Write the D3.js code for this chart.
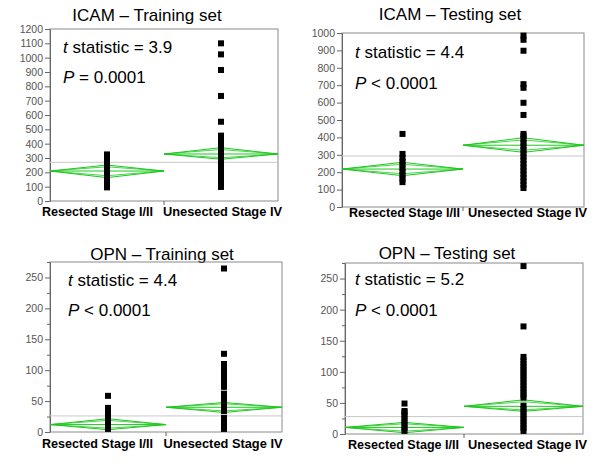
<!DOCTYPE html>
<html>
<head>
<meta charset="utf-8">
<script src="https://cdn.jsdelivr.net/npm/d3@7"></script>
<style>
  body { margin: 0; background: #fff; }
  text { font-family: Arial, "Liberation Sans", sans-serif; }
</style>
</head>
<body>
<svg id="chart" width="600" height="465"></svg>
<script>
// ---------------------------------------------------------------- data
const titles = ["ICAM – Training set", "ICAM – Testing set", "OPN – Training set", "OPN – Testing set"];
const groups = ["Resected Stage I/II", "Unesected Stage IV"];
const tStats = ["3.9", "4.4", "4.4", "5.2"];
const pTexts = ["= 0.0001", "< 0.0001", "< 0.0001", "< 0.0001"];
const yMax = [1200, 1000, 275, 275];
const yStep = [100, 100, 50, 50];
const yMinor = [0, 0, 25, 25];

const grandMeans = [270, 293, 26, 28];
const means = [[209, 328], [218, 355], [12, 40], [10.6, 44.5]];
const ciLow = [[163, 291], [180, 314], [3.7, 31.6], [2, 36.4]];
const ciHigh = [[251, 372], [257, 398], [21.5, 47.8], [18.7, 55]];

const icamTrainRes = [95, 115, 135, 155, 175, 195, 215, 235, 255, 275, 295, 315, 325];
const icamTrainUnres = [98, 118, 138, 158, 178, 198, 218, 238, 258, 278, 298, 318, 338, 358, 378, 398,
  418, 438, 456, 553, 733, 914, 1023, 1100];
const icamTestRes = [143, 163, 183, 203, 223, 243, 263, 283, 305, 420];
const icamTestUnres = [109, 129, 149, 169, 189, 209, 229, 249, 269, 289, 309, 329, 349, 369, 389, 409,
  420, 529, 599, 685, 706, 898, 961, 985];
const opnTrainRes = [5, 9, 13, 17, 21, 25, 29, 33, 37, 39, 58.5];
const opnTrainUnres = [5, 10, 15, 20, 23, 34, 39, 44, 49, 54, 59, 62, 73, 78, 83, 88, 93, 98, 103, 108,
  110, 126.5, 264.5];
const opnTestRes = [5, 10, 15, 20, 25, 30, 35, 37, 49];
const opnTestUnres = [5, 10, 15, 20, 25, 30, 35, 40, 45.5, 58.5, 63, 68, 73, 78, 83, 88, 93, 98, 103, 108,
  113, 118, 124, 173, 270];

const points = [
  [icamTrainRes, icamTrainUnres],
  [icamTestRes, icamTestUnres],
  [opnTrainRes, opnTrainUnres],
  [opnTestRes, opnTestUnres]
];

// ---------------------------------------------------------------- layout
const layout = [
  { l: 50, r: 278, t: 29, b: 201, tx: 147, ty: 21, sx: 63, sy: [53, 83], lb: 216, lx: [97.5, 222.5] },
  { l: 342, r: 584, t: 33, b: 207, tx: 450, ty: 20, sx: 355, sy: [58, 89], lb: 217, lx: [404.5, 527.5] },
  { l: 50, r: 282, t: 262, b: 432, tx: 162, ty: 260, sx: 68, sy: [286, 316], lb: 448, lx: [97.5, 223] },
  { l: 345, r: 583, t: 263, b: 434, tx: 447, ty: 259, sx: 355, sy: [285, 316], lb: 449, lx: [403.5, 527.5] }
];
const labelWidths = [111, 119];

const green = "#1ec81e";
const sq = 6;
const svg = d3.select("#chart");

layout.forEach(function (L, i) {
  var g = svg.append("g");
  var y = d3.scaleLinear().domain([0, yMax[i]]).range([L.b, L.t]);
  var x = d3.scaleBand().domain(groups).range([L.l, L.r]).padding(0);

  // title
  g.append("text").attr("x", L.tx).attr("y", L.ty)
    .attr("text-anchor", "middle").attr("font-size", 17).attr("fill", "#000")
    .text(titles[i]);

  // frame
  g.append("rect").attr("x", L.l).attr("y", L.t)
    .attr("width", L.r - L.l).attr("height", L.b - L.t)
    .attr("fill", "none").attr("stroke", "#8a8a8a");

  // y axis
  var major = d3.range(0, yMax[i] + 1, yStep[i]);
  var ax = g.append("g").attr("transform", "translate(" + L.l + ",0)")
    .call(d3.axisLeft(y).tickValues(major).tickFormat(d3.format("d"))
      .tickSize(5).tickPadding(2).tickSizeOuter(0));
  if (yMinor[i]) {
    var minor = d3.range(0, yMax[i] + 1, yMinor[i]).filter(v => v % yStep[i] != 0);
    g.append("g").attr("transform", "translate(" + L.l + ",0)")
      .call(d3.axisLeft(y).tickValues(minor).tickSize(3).tickFormat("").tickSizeOuter(0))
      .call(s => s.select(".domain").remove())
      .selectAll("line").attr("stroke", "#666");
  }
  ax.select(".domain").attr("stroke", "#666");
  ax.selectAll("line").attr("stroke", "#666");
  ax.selectAll("text").attr("font-size", 10.5).attr("fill", "#555")
    .attr("font-family", "Arial, 'Liberation Sans', sans-serif");

  // separator tick on x axis
  var sep = x(groups[1]);
  g.append("line").attr("x1", sep).attr("x2", sep).attr("y1", L.b).attr("y2", L.b + 4)
    .attr("stroke", "#666");

  // grand mean
  g.append("line").attr("x1", L.l).attr("x2", L.r)
    .attr("y1", y(grandMeans[i])).attr("y2", y(grandMeans[i]))
    .attr("stroke", "#c8c8c8");

  // means diamonds
  groups.forEach(function (grp, k) {
    var x0 = x(grp), x1 = x(grp) + x.bandwidth(), xc = x0 + x.bandwidth() / 2;
    var m = means[i][k], hi = ciHigh[i][k], lo = ciLow[i][k];
    var ovHi = m + (hi - m) / Math.SQRT2, ovLo = m - (m - lo) / Math.SQRT2;
    var dg = g.append("g").attr("fill", "none").attr("stroke", green).attr("stroke-width", 1);
    dg.append("path").attr("d", d3.line()([[x0, y(m)], [xc, y(hi)], [x1, y(m)], [xc, y(lo)]]) + "Z");
    dg.append("path").attr("d", d3.line()([[x0, y(m)], [xc, y(ovHi)], [x1, y(m)], [xc, y(ovLo)]]) + "Z")
      .attr("stroke-opacity", 0.8);
    dg.append("line").attr("x1", x0).attr("x2", x1).attr("y1", y(m)).attr("y2", y(m));
  });

  // observations
  groups.forEach(function (grp, k) {
    var xc = x(grp) + x.bandwidth() / 2;
    g.append("g").selectAll("rect").data(points[i][k]).join("rect")
      .attr("x", xc - sq / 2).attr("y", d => y(d) - sq / 2)
      .attr("width", sq).attr("height", sq).attr("fill", "#000");
  });

  // statistics
  var st = g.append("g").attr("font-size", 17).attr("fill", "#000");
  var t1 = st.append("text").attr("x", L.sx).attr("y", L.sy[0]);
  t1.append("tspan").attr("font-style", "italic").text("t");
  t1.append("tspan").text(" statistic = " + tStats[i]);
  var t2 = st.append("text").attr("x", L.sx).attr("y", L.sy[1]);
  t2.append("tspan").attr("font-style", "italic").text("P");
  t2.append("tspan").text(" " + pTexts[i]);

  // category labels
  groups.forEach(function (grp, k) {
    g.append("text").attr("x", L.lx[k]).attr("y", L.lb)
      .attr("text-anchor", "middle").attr("font-size", 13.5).attr("font-weight", "bold")
      .attr("textLength", labelWidths[k]).attr("lengthAdjust", "spacingAndGlyphs")
      .attr("fill", "#000").text(grp);
  });
});
</script>
</body>
</html>
